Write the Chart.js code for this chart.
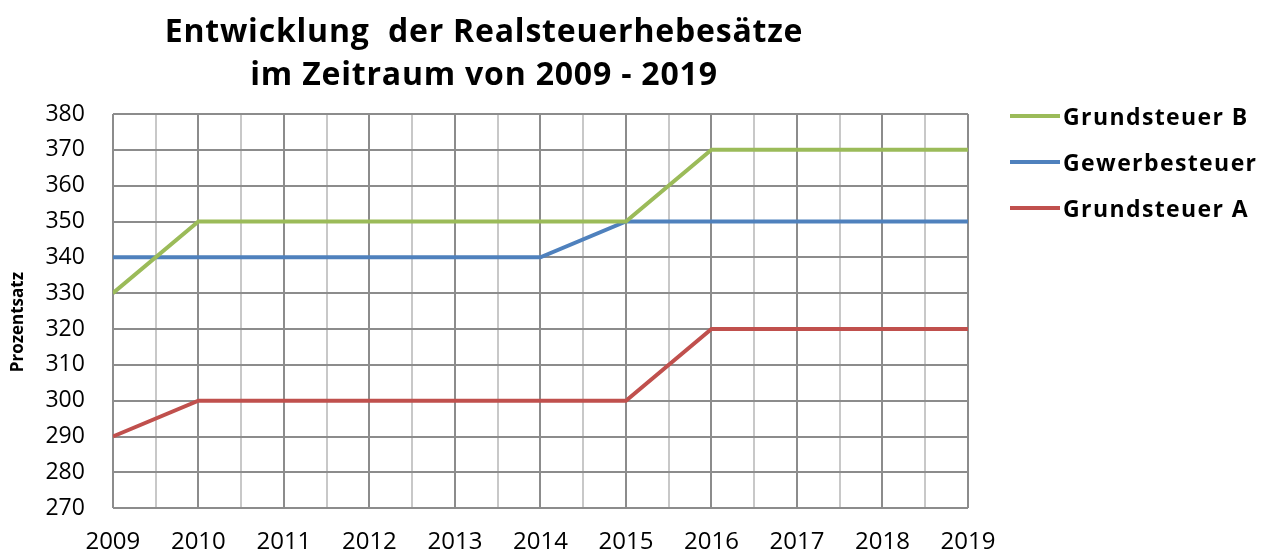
<!DOCTYPE html>
<html>
<head>
<meta charset="utf-8">
<script src="https://cdn.jsdelivr.net/npm/chart.js@4/dist/chart.umd.min.js"></script>
<style>
  html, body { margin: 0; padding: 0; background: #fff; }
  #wrap { position: relative; width: 1261px; height: 552px; font-family: 'Open Sans', 'Liberation Sans', sans-serif; }
  #titel { position: absolute; left: 0; top: 8px; width: 968px; text-align: center;
           font-size: 32px; font-weight: bold; line-height: 43px; letter-spacing: 0.8px; color: #000; }
  #legende { position: absolute; left: 1010px; top: 93px; }
  .eintrag { height: 46px; display: flex; align-items: center; }
  .linie { width: 50px; height: 4px; margin-right: 3px; }
  .text { font-size: 23px; font-weight: bold; letter-spacing: 1.4px; color: #000; line-height: 30px; }
</style>
</head>
<body>
<div id="wrap">
  <canvas id="chartHebesaetze"></canvas>
  <div id="titel">Entwicklung&nbsp; der Realsteuerhebesätze<br>im Zeitraum von 2009 - 2019</div>
  <div id="legende"></div>
</div>
<script>
// Daten
const jahre = [2009, 2010, 2011, 2012, 2013, 2014, 2015, 2016, 2017, 2018, 2019];
const grundsteuerB = [330, 350, 350, 350, 350, 350, 350, 370, 370, 370, 370];
const gewerbesteuer = [340, 340, 340, 340, 340, 340, 350, 350, 350, 350, 350];
const grundsteuerA = [290, 300, 300, 300, 300, 300, 300, 320, 320, 320, 320];
const yTicks = [270, 280, 290, 300, 310, 320, 330, 340, 350, 360, 370, 380];

const toPoints = (werte) => werte.map((v, i) => ({ x: jahre[i], y: v }));

const fontName = "'Open Sans', 'Liberation Sans', sans-serif";

const canvasElement = document.getElementById('chartHebesaetze');
const chartHebesaetze = new Chart(canvasElement, {
    type: 'line',
    data: {
        datasets: [{
            label: 'Grundsteuer B',
            data: toPoints(grundsteuerB),
            borderColor: '#9BBB59',
            backgroundColor: '#9BBB59'
        }, {
            label: 'Gewerbesteuer',
            data: toPoints(gewerbesteuer),
            borderColor: '#4F81BD',
            backgroundColor: '#4F81BD'
        }, {
            label: 'Grundsteuer A',
            data: toPoints(grundsteuerA),
            borderColor: '#C0504D',
            backgroundColor: '#C0504D'
        }]
    },
    options: {
        responsive: true,
        maintainAspectRatio: false,
        animation: false,
        elements: {
            line: { borderWidth: 4, tension: 0 },
            point: { radius: 0, hoverRadius: 0 }
        },
        layout: {
            autoPadding: false,
            padding: { left: 8, right: 293, top: 114, bottom: -25 }
        },
        plugins: {
            legend: { display: false },
            tooltip: { enabled: false }
        },
        scales: {
            x: {
                type: 'linear',
                min: 2009,
                max: 2019,
                afterBuildTicks: (axis) => {
                    let t = [];
                    for (let j = 0; j <= 20; j++) t.push({ value: 2009 + j * 0.5 });
                    axis.ticks = t;
                },
                ticks: {
                    color: '#000',
                    padding: 20,
                    maxRotation: 0,
                    autoSkip: false,
                    font: { family: fontName, size: 24 },
                    callback: (v) => Number.isInteger(v) ? String(v) : ''
                },
                grid: {
                    color: (ctx) => Number.isInteger(ctx.tick.value) ? '#8c8c8c' : '#c8c8c8',
                    lineWidth: 2,
                    drawTicks: false
                },
                border: { display: false }
            },
            y: {
                min: 270,
                max: 380,
                afterBuildTicks: (axis) => {
                    axis.ticks = yTicks.map(v => ({ value: v }));
                },
                ticks: {
                    color: '#000',
                    padding: 28,
                    font: { family: fontName, size: 23 }
                },
                grid: {
                    color: '#8c8c8c',
                    lineWidth: 2,
                    drawTicks: false
                },
                border: { display: false },
                title: {
                    display: true,
                    // Leerzeichen am Ende schieben den Titel etwas nach unten, wie im Original
                    text: 'Prozentsatz' + '\u00a0'.repeat(5),
                    color: '#000',
                    padding: { top: 0, bottom: -11 },
                    font: { family: fontName, size: 17, weight: 'bold' }
                }
            }
        }
    }
});

// Legende rechts, aus den Datensätzen gebaut
const legende = document.getElementById('legende');
chartHebesaetze.data.datasets.forEach(ds => {
    const zeile = document.createElement('div');
    zeile.className = 'eintrag';
    const linie = document.createElement('div');
    linie.className = 'linie';
    linie.style.background = ds.borderColor;
    const text = document.createElement('span');
    text.className = 'text';
    text.textContent = ds.label;
    zeile.appendChild(linie);
    zeile.appendChild(text);
    legende.appendChild(zeile);
});
</script>
</body>
</html>
